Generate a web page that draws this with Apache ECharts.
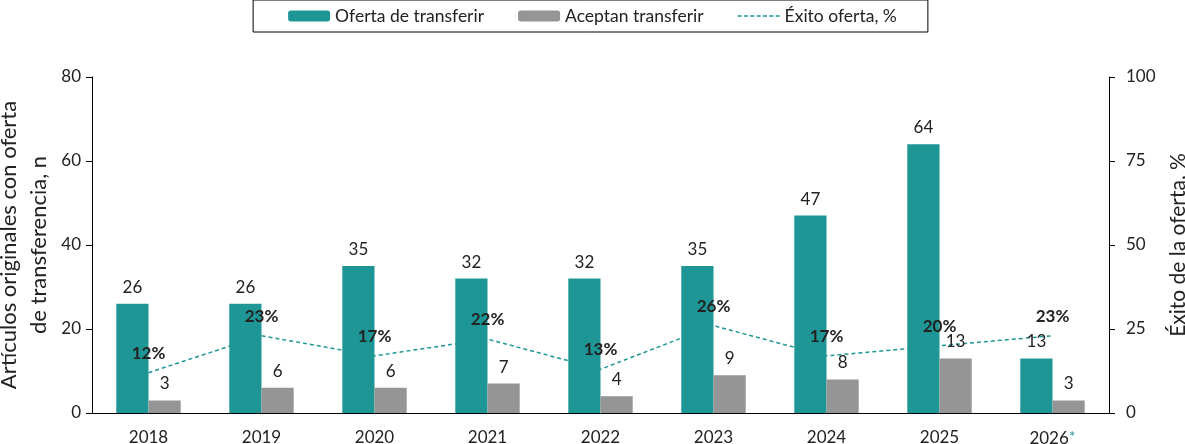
<!DOCTYPE html>
<html>
<head>
<meta charset="utf-8">
<style>
  html, body { margin: 0; padding: 0; background: #fff; }
  #main { width: 1185px; height: 444px; }
</style>
<script src="https://cdn.jsdelivr.net/npm/echarts@6/dist/echarts.min.js"></script>
</head>
<body>
<div id="main"></div>
<script>
var years = ['2018', '2019', '2020', '2021', '2022', '2023', '2024', '2025', '2026'];
var ofertas = [26, 26, 35, 32, 32, 35, 47, 64, 13];
var aceptan = [3, 6, 6, 7, 4, 9, 8, 13, 3];
var exito = [12, 23, 17, 22, 13, 26, 17, 20, 23];

var teal = '#1f9696';
var gris = '#959595';
var texto = '#222';
var fuente = 'Lato';

// icono de línea discontinua para la leyenda
var iconoDiscontinuo = 'path://M0,0h4v1.6h-4z M6.3,0h4v1.6h-4z M12.6,0h4v1.6h-4z M18.9,0h4v1.6h-4z ' +
  'M25.2,0h4v1.6h-4z M31.5,0h4v1.6h-4z M37.8,0h4v1.6h-4z';

var myChart = echarts.init(document.getElementById('main'));
var option = {
  animation: false,
  textStyle: { fontFamily: fuente, color: texto },
  legend: {
    top: 0,
    left: 'center',
    data: [
      { name: 'Oferta de transferir' },
      { name: 'Aceptan transferir' },
      { name: 'Éxito oferta, %', icon: iconoDiscontinuo, itemStyle: { color: teal } }
    ],
    borderColor: '#000',
    borderWidth: 1,
    padding: [7, 31, 7, 35],
    itemWidth: 42,
    itemHeight: 11,
    itemGap: 34,
    textStyle: { fontSize: 17.5, color: texto, fontFamily: fuente }
  },
  grid: { left: 92, right: 76, top: 77, bottom: 31, outerBoundsMode: 'none', containLabel: false },
  xAxis: {
    type: 'category',
    data: years,
    axisLine: { lineStyle: { color: '#000', width: 1 } },
    axisTick: { show: false },
    axisLabel: {
      fontSize: 17,
      color: texto,
      margin: 16,
      formatter: function (v) {
        return v === '2026' ? v + '{a|*}' : v;
      },
      rich: {
        a: { color: teal, fontSize: 16, verticalAlign: 'top', padding: [0, 0, 4, 0] }
      }
    }
  },
  yAxis: [{
    type: 'value',
    min: 0, max: 80, interval: 20,
    name: 'Artículos originales con oferta\nde transferencia, n',
    nameLocation: 'middle',
    nameRotate: 90,
    nameGap: 38,
    nameMoveOverlap: false,
    nameTextStyle: { fontSize: 22, color: texto, lineHeight: 30 },
    axisLine: { show: true, lineStyle: { color: '#000' } },
    axisTick: { show: true, length: 6, lineStyle: { color: '#000' } },
    axisLabel: { fontSize: 17, color: texto, margin: 11 },
    splitLine: { show: false }
  }, {
    type: 'value',
    min: 0, max: 100, interval: 25,
    name: 'Éxito de la oferta, %',
    nameLocation: 'middle',
    nameRotate: 90,
    nameGap: 59,
    nameMoveOverlap: false,
    nameTextStyle: { fontSize: 21, color: texto },
    axisLine: { show: true, lineStyle: { color: '#000' } },
    axisTick: { show: true, length: 6, lineStyle: { color: '#000' } },
    axisLabel: { fontSize: 17, color: texto, margin: 17 },
    splitLine: { show: false }
  }],
  series: [{
    name: 'Éxito oferta, %',
    type: 'line',
    yAxisIndex: 1,
    data: exito,
    z: 1,
    symbol: 'none',
    lineStyle: { color: teal, width: 1.5, type: [4, 3] },
    itemStyle: { color: teal }
  }, {
    name: 'Oferta de transferir',
    type: 'bar',
    data: ofertas,
    z: 2,
    barGap: '0%',
    barCategoryGap: '43%',
    itemStyle: { color: teal },
    label: { show: true, position: 'top', distance: 8, fontSize: 17, color: texto }
  }, {
    name: 'Aceptan transferir',
    type: 'bar',
    data: aceptan,
    z: 2,
    itemStyle: { color: gris },
    label: { show: true, position: 'top', distance: 8, fontSize: 17, color: texto }
  }, {
    // etiquetas del % por encima de las barras
    name: 'etiquetas',
    type: 'line',
    yAxisIndex: 1,
    data: exito,
    z: 5,
    silent: true,
    symbol: 'circle',
    symbolSize: 0,
    lineStyle: { opacity: 0 },
    label: {
      show: true, position: 'top', distance: 11,
      fontSize: 17, fontWeight: 'bold', color: texto,
      formatter: '{c}%'
    }
  }]
};

myChart.setOption(option);
</script>
</body>
</html>
